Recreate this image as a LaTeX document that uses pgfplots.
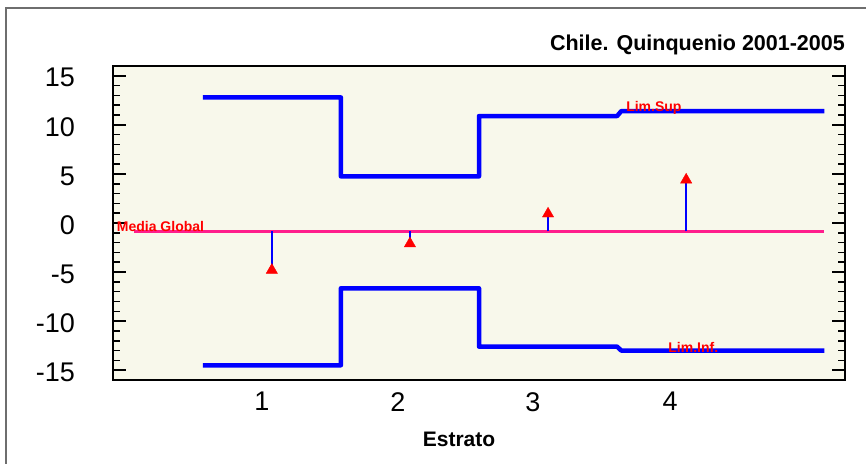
\documentclass[border=0pt]{standalone}
\usepackage{fontspec}
\setmainfont{Liberation Sans}
\usepackage{pgfplots}
\pgfplotsset{compat=1.18}
\definecolor{bg}{RGB}{248,248,235}
\definecolor{mediapink}{RGB}{255,30,140}
\definecolor{frameg}{RGB}{110,110,110}
\definecolor{limblue}{RGB}{0,0,255}
\definecolor{limred}{RGB}{255,0,0}
\begin{document}
\begin{tikzpicture}
\useasboundingbox (-113pt,-83pt) rectangle (753pt,380pt);
\draw[frameg, line width=2pt] (-107pt,-84pt) -- (-107pt,372pt) -- (754pt,372pt);
\begin{axis}[
  scale only axis, width=732pt, height=314pt,
  xmin=-0.15, xmax=5.15, ymin=-16, ymax=16,
  axis background/.style={fill=bg},
  axis line style={line width=2.2pt},
  xtick={0.928,1.913,2.891,3.884}, xticklabels={1,2,3,4},
  xtick style={draw=none},
  ytick={-15,-10,...,15}, yticklabels={-15,-10,-5,0,5,10,15},
  minor y tick num=4,
  yticklabel pos=left,
  tick align=inside,
  major tick length=13pt, minor tick length=7pt,
  every tick/.style={black, line width=2pt},
  minor tick style={black, line width=1.6pt},
  tick label style={font=\fontsize{27}{30}\selectfont, inner sep=0pt},
  yticklabel style={anchor=east, xshift=-38pt, yshift=-2pt},
  xticklabel style={anchor=north, yshift=-12pt},
  title={Chile. Quinquenio 2001-2005},
  title style={font=\fontsize{21.5}{24}\selectfont\bfseries, at={(1,1)}, anchor=base east, yshift=9pt, inner sep=0pt},
  xlabel={Estrato},
  xlabel style={font=\fontsize{21}{24}\selectfont\bfseries, at={(axis description cs:0.4727,0)}, anchor=base, yshift=-66pt, inner sep=0pt},
  clip=false,
]
% media global
\addplot[mediapink, line width=2.5pt] coordinates {(0,-0.85) (5.0,-0.85)};
% stems
\addplot[limblue, line width=2pt] coordinates {(1,-0.85) (1,-4.8)};
\addplot[limblue, line width=2pt] coordinates {(2,-0.85) (2,-2.1)};
\addplot[limblue, line width=2pt] coordinates {(3,-0.85) (3,0.94)};
\addplot[limblue, line width=2.4pt] coordinates {(4,-0.85) (4,4.4)};
% markers
\addplot[only marks, mark=triangle*, mark size=6.5pt, mark options={fill=limred, draw=limred}] coordinates {(1,-4.8) (2,-2.1) (3,0.94) (4,4.4)};
% upper limit
\addplot[limblue, line width=4.5pt, line join=round] coordinates {(0.5,12.8) (1.5,12.8) (1.5,4.75) (2.5,4.75) (2.5,10.9) (3.5,10.9) (3.53,11.4) (5.0,11.4)};
% lower limit
\addplot[limblue, line width=4.5pt, line join=round] coordinates {(0.5,-14.5) (1.5,-14.5) (1.5,-6.65) (2.5,-6.65) (2.5,-12.6) (3.5,-12.6) (3.53,-13.0) (5.0,-13.0)};
\node[anchor=base west, text=limred, font=\fontsize{14}{16}\selectfont\bfseries, inner sep=0pt] at (axis cs:-0.123,-0.85) {Media Global};
\node[anchor=base west, text=limred, font=\fontsize{14}{16}\selectfont\bfseries, inner sep=0pt] at (axis cs:3.565,11.35) {Lim.Sup};
\node[anchor=base west, text=limred, font=\fontsize{14}{16}\selectfont\bfseries, inner sep=0pt] at (axis cs:3.87,-13.2) {Lim.Inf.};
\end{axis}
\end{tikzpicture}
\end{document}
